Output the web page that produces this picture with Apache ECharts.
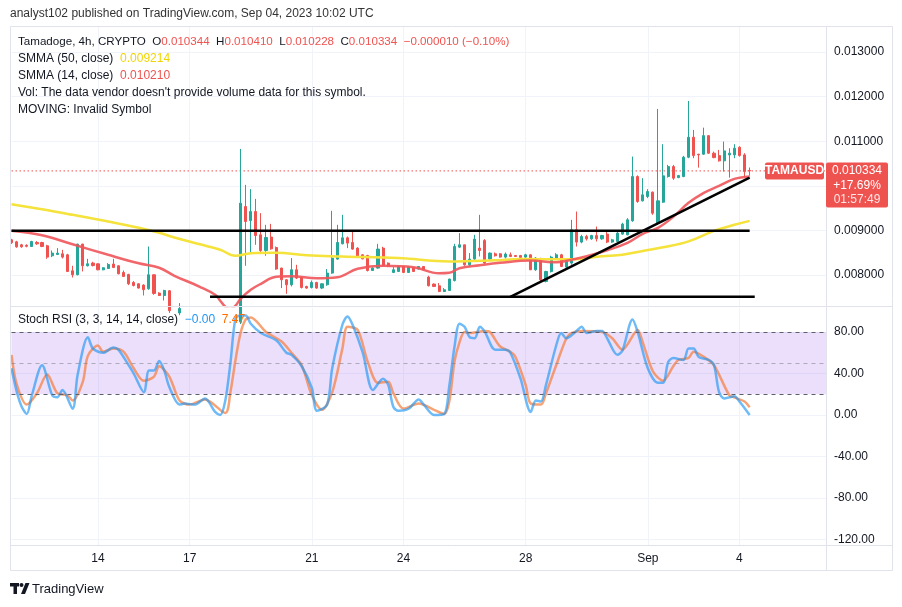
<!DOCTYPE html>
<html>
<head>
<meta charset="utf-8">
<script src="https://cdn.jsdelivr.net/npm/echarts@6/dist/echarts.min.js"></script>
<style>
  html, body { margin: 0; padding: 0; background: #fff; }
  #main { width: 902px; height: 607px; }
</style>
</head>
<body>
<div id="main"></div>
<script>
// 4h bars from Aug 11 04:00 UTC, plus empty room on the right
const startUTC = Date.UTC(2023, 7, 11, 4);
const barCount = 161;
const categories = [];
for (let i = 0; i < barCount; i++) {
  const d = new Date(startUTC + i * 4 * 3600 * 1000);
  categories.push(d.toISOString().slice(0, 13).replace('T', ' ') + ':00');
}

const dayTicks = ['2023-08-14 00:00', '2023-08-17 00:00', '2023-08-21 00:00', '2023-08-24 00:00',
  '2023-08-28 00:00', '2023-09-01 00:00', '2023-09-04 00:00'];
const dayTickLabels = ['14', '17', '21', '24', '28', 'Sep', '4'];

const priceTicks = [0.008, 0.009, 0.010, 0.011, 0.012, 0.013];
const priceLabels = [0.008, 0.009, 0.011, 0.012, 0.013];
const stochTicks = [80, 40, 0, -40, -80, -120];
const stochLevels = [80, 50, 20];

// [open, close, low, high]
const candles = [
  [0.008789,0.008722,0.008699,0.008811],[0.008744,0.008632,0.008610,0.008767],[0.008677,0.008632,0.008610,0.008699],
  [0.008666,0.008643,0.008621,0.008688],[0.008639,0.008751,0.008632,0.008767],[0.008729,0.008699,0.008677,0.008760],
  [0.008729,0.008639,0.008625,0.008744],[0.008655,0.008401,0.008363,0.008677],[0.008431,0.008491,0.008401,0.008549],
  [0.008460,0.008491,0.008453,0.008603],[0.008475,0.008401,0.008370,0.008565],[0.008453,0.008079,0.008072,0.008475],
  [0.008095,0.008005,0.007944,0.008207],[0.008005,0.008693,0.007994,0.008699],[0.008693,0.008207,0.008079,0.008699],
  [0.008207,0.008251,0.008191,0.008363],[0.008267,0.008213,0.008191,0.008296],[0.008251,0.008117,0.008106,0.008262],
  [0.008117,0.008162,0.008106,0.008173],[0.008146,0.008236,0.008133,0.008267],[0.008245,0.008169,0.008155,0.008363],
  [0.008207,0.008027,0.008016,0.008218],[0.008057,0.007967,0.007954,0.008101],[0.008012,0.007803,0.007774,0.008027],
  [0.007833,0.007765,0.007743,0.007864],[0.007803,0.007707,0.007698,0.007814],[0.007774,0.007669,0.007541,0.007792],
  [0.007691,0.008005,0.007669,0.008639],[0.008005,0.007586,0.007557,0.008016],[0.007595,0.007541,0.007528,0.007613],
  [0.007541,0.007653,0.007429,0.007669],[0.007647,0.007200,0.007150,0.007660],[0.007200,0.007150,0.007050,0.007260],
  [0.007150,0.007250,0.007100,0.007370],[0.007250,0.007100,0.007050,0.007300],[0.007100,0.007000,0.006950,0.007150],
  [0.007000,0.006950,0.006880,0.007080],[0.006950,0.007050,0.006900,0.007100],[0.007050,0.006900,0.006850,0.007100],
  [0.006900,0.006850,0.006780,0.006950],[0.006850,0.006950,0.006800,0.007000],[0.006950,0.006900,0.006850,0.007020],
  [0.006900,0.006800,0.006750,0.006950],[0.006800,0.006880,0.006760,0.006920],[0.006880,0.006950,0.006820,0.007000],
  [0.006950,0.009611,0.006900,0.010827],[0.009535,0.009199,0.008207,0.010021],[0.009221,0.009423,0.008505,0.009925],
  [0.009423,0.008885,0.008677,0.009707],[0.008901,0.008549,0.008491,0.009387],[0.008549,0.008841,0.008431,0.009125],
  [0.008850,0.008587,0.008565,0.009147],[0.008617,0.008133,0.008117,0.008639],[0.008155,0.007893,0.007707,0.008162],
  [0.007893,0.007781,0.007579,0.007909],[0.007781,0.008117,0.007743,0.008379],[0.008117,0.007931,0.007909,0.008229],
  [0.007944,0.007720,0.007698,0.007967],[0.007743,0.007707,0.007691,0.007759],[0.007720,0.007833,0.007698,0.007877],
  [0.007833,0.007707,0.007691,0.007848],[0.007707,0.007803,0.007685,0.007814],[0.007781,0.008043,0.007759,0.008133],
  [0.008043,0.008379,0.008027,0.009439],[0.008357,0.008729,0.008341,0.009125],[0.008699,0.008834,0.008688,0.009349],
  [0.008834,0.008715,0.008603,0.008863],[0.008729,0.008581,0.008565,0.008968],[0.008603,0.008415,0.008401,0.008621],
  [0.008453,0.008363,0.008352,0.008464],[0.008437,0.008101,0.008079,0.008453],[0.008101,0.008155,0.008094,0.008173],
  [0.008155,0.008581,0.008139,0.008699],[0.008603,0.008207,0.008195,0.008632],[0.008267,0.008191,0.008177,0.008281],
  [0.008057,0.008117,0.008043,0.008177],[0.008079,0.008191,0.008072,0.008207],[0.008191,0.008057,0.008043,0.008200],
  [0.008057,0.008177,0.008050,0.008190],[0.008162,0.008079,0.008072,0.008173],[0.008133,0.008191,0.008125,0.008200],
  [0.008191,0.008117,0.008110,0.008200],[0.007953,0.007759,0.007743,0.007983],[0.007797,0.007743,0.007730,0.007810],
  [0.007759,0.007631,0.007617,0.007819],[0.007631,0.007669,0.007617,0.007707],[0.007653,0.007909,0.007647,0.007916],
  [0.007877,0.008639,0.007855,0.008699],[0.008625,0.008677,0.008603,0.008939],[0.008677,0.008229,0.008207,0.008677],
  [0.008229,0.008357,0.008191,0.008491],[0.008357,0.008805,0.008341,0.008901],[0.008603,0.008549,0.008415,0.009349],
  [0.008773,0.008267,0.008251,0.008805],[0.008357,0.008491,0.008341,0.008505],[0.008475,0.008431,0.008415,0.008505],
  [0.008475,0.008401,0.008390,0.008490],[0.008401,0.008469,0.008370,0.008505],[0.008453,0.008415,0.008401,0.008505],
  [0.008437,0.008415,0.008410,0.008445],[0.008437,0.008392,0.008385,0.008450],[0.008401,0.008453,0.008363,0.008475],
  [0.008453,0.008117,0.008110,0.008460],[0.008117,0.008379,0.008094,0.008401],[0.008363,0.007893,0.007833,0.008386],
  [0.007855,0.008079,0.007833,0.008094],[0.008079,0.008401,0.008057,0.008431],[0.008370,0.008453,0.008357,0.008491],
  [0.008453,0.008191,0.008177,0.008475],[0.008177,0.008341,0.008162,0.008363],[0.008267,0.009013,0.008229,0.009237],
  [0.009013,0.008738,0.008639,0.009423],[0.008738,0.008863,0.008711,0.008901],[0.008863,0.008811,0.008773,0.008901],
  [0.008811,0.008885,0.008789,0.008901],[0.008885,0.008811,0.008751,0.009087],[0.008811,0.008885,0.008790,0.008900],
  [0.008917,0.008738,0.008715,0.008968],[0.008738,0.008789,0.008722,0.008811],[0.008751,0.008939,0.008744,0.008968],
  [0.008917,0.009141,0.008901,0.009170],[0.008901,0.009237,0.008890,0.009275],[0.009215,0.010207,0.009193,0.010655],
  [0.010207,0.009647,0.009618,0.010234],[0.009663,0.009797,0.009647,0.010171],[0.009759,0.009871,0.009724,0.009925],
  [0.009858,0.009387,0.009349,0.009871],[0.009163,0.009663,0.009125,0.011723],[0.009633,0.010223,0.009618,0.010933],
  [0.010207,0.010431,0.010184,0.010469],[0.010431,0.010171,0.010133,0.010469],[0.010184,0.010229,0.010171,0.010245],
  [0.010207,0.010641,0.010193,0.010671],[0.010641,0.011089,0.010619,0.011903],[0.011089,0.010677,0.010619,0.011253],
  [0.010709,0.010693,0.010408,0.010715],[0.010709,0.011125,0.010693,0.011304],[0.011125,0.010731,0.010715,0.011140],
  [0.010731,0.010632,0.010619,0.010767],[0.010677,0.010559,0.010543,0.010805],[0.010559,0.010783,0.010319,0.010991],
  [0.010693,0.010731,0.010184,0.010843],[0.010693,0.010843,0.010619,0.010933],[0.010865,0.010677,0.010655,0.010885],
  [0.010693,0.010319,0.010184,0.010731],[0.010344,0.010334,0.010228,0.010410]
];

// [bar index, value]
const smma50 = [[0,0.009584],[6,0.009472],[12,0.009349],[19,0.009199],[25,0.009058],[29,0.008946],[32,0.008841],
  [37,0.008688],[41,0.008565],[44,0.008431],[47,0.008487],[52,0.008498],[58,0.008442],[65,0.008415],[76,0.008379],
  [86,0.008303],[95,0.008330],[100,0.008357],[110,0.008352],[116,0.008420],[120,0.008453],[124,0.008540],
  [128,0.008621],[133,0.008755],[138,0.008990],[142,0.009125],[145,0.009214]];
const smma14 = [[0,0.008991],[6,0.008890],[12,0.008688],[19,0.008453],[25,0.008263],[29,0.008162],[32,0.007983],
  [37,0.007736],[40,0.007557],[41,0.007423],[42,0.007288],[43,0.007240],[44,0.007311],[45,0.007467],[47,0.007669],
  [49,0.007803],[52,0.007960],[55,0.007971],[60,0.007926],[64,0.007949],[68,0.008139],[73,0.008207],[79,0.008173],
  [84,0.008039],[86,0.008050],[88,0.008151],[92,0.008218],[96,0.008274],[102,0.008325],[107,0.008285],
  [110,0.008341],[113,0.008419],[117,0.008554],[121,0.008722],[124,0.008923],[127,0.009058],[130,0.009304],
  [133,0.009618],[136,0.009842],[139,0.009999],[142,0.010155],[145,0.010210]];

const resistance = [[0, 0.00899], [145, 0.00899]];
const support = [[39, 0.007512], [146, 0.007512]];
const trendUp = [[98, 0.007512], [145, 0.010185]];

const stochK = [[0,45],[1,23],[2,8],[3,1],[4,19],[6,48],[8,19],[9,17],[10,24],[12,6],[13,39],[15,75],[16,64],[18,60],
  [20,65],[21,63],[23,48],[24,40],[26,22],[27,43],[28,43],[29,52],[30,43],[31,27],[33,10],[34,11],[36,10],[38,16],
  [40,3],[41,0],[42,14],[43,50],[44,93],[45,96],[46,96],[47,88],[49,79],[52,72],[54,60],[55,58],[57,47],[59,26],
  [60,4],[62,10],[63,45],[65,87],[66,95],[67,87],[69,60],[71,24],[73,35],[74,29],[75,8],[76,4],[78,6],[80,15],
  [81,10],[83,0],[85,1],[86,28],[87,65],[88,88],[89,85],[90,75],[91,74],[92,85],[93,80],[95,63],[97,63],[98,60],
  [100,35],[102,3],[103,14],[104,13],[105,29],[107,67],[108,79],[109,74],[111,81],[112,85],[113,79],[115,81],
  [116,81],[117,74],[119,58],[120,62],[122,92],[123,80],[125,45],[127,31],[128,31],[129,51],[130,55],[132,53],
  [133,64],[134,64],[135,56],[137,53],[138,48],[139,22],[140,16],[141,17],[142,18],[143,13],[145,0]];
const stochD = [[0,58],[1,30],[3,10],[5,21],[7,39],[9,21],[11,19],[12,14],[14,32],[15,57],[17,67],[18,61],[20,64],
  [22,61],[24,45],[26,33],[28,37],[29,47],[31,37],[33,14],[35,10],[38,15],[42,2],[43,22],[44,53],[45,79],[46,92],
  [47,94],[50,80],[53,71],[55,60],[57,48],[59,19],[61,5],[63,22],[65,64],[66,85],[68,82],[70,51],[72,31],[74,32],
  [75,21],[77,6],[80,11],[83,5],[85,1],[86,13],[87,51],[88,70],[89,80],[90,79],[93,81],[94,80],[96,66],[98,61],
  [99,56],[101,29],[102,11],[104,10],[105,21],[107,48],[109,74],[110,79],[112,81],[116,80],[118,74],[120,63],
  [121,68],[123,82],[124,70],[126,42],[128,33],[130,47],[131,53],[133,55],[134,61],[136,56],[138,48],[141,19],
  [142,17],[144,13],[145,7.47]];

const dayChangeText = '+17.69%';
const countdownText = '01:57:49';

const UP = '#26A69A', DOWN = '#EF5350';
const FONT = 'Liberation Sans, Arial, sans-serif';
const GRID_LINE = '#F0F3FA';

const chart = echarts.init(document.getElementById('main'), null, { renderer: 'canvas' });

const isDayTick = (idx, value) => dayTicks.indexOf(value) >= 0;

function xAxisFor(gridIndex, showLabels) {
  return {
    type: 'category', gridIndex: gridIndex, data: categories, boundaryGap: false,
    axisLine: { show: false }, axisTick: { show: false },
    axisLabel: {
      show: showLabels, interval: isDayTick, margin: 8,
      color: '#131722', fontSize: 12, fontFamily: FONT,
      formatter: v => { const k = dayTicks.indexOf(v); return k >= 0 ? dayTickLabels[k] : ''; }
    },
    splitLine: { show: true, interval: isDayTick, lineStyle: { color: GRID_LINE, width: 1 } }
  };
}

const last = candles[candles.length - 1];
const lastClose = last[1];
const priceLine = [[0, lastClose], [barCount - 1, lastClose]];

const option = {
  backgroundColor: '#fff',
  animation: false,
  grid: [
    { left: 11.5, right: 76, top: 26, height: 280 },
    { left: 11.5, right: 76, top: 308, height: 237 }
  ],
  xAxis: [xAxisFor(0, false), xAxisFor(1, true)],
  yAxis: [
    {
      type: 'value', gridIndex: 0, position: 'right', scale: true,
      min: 0.007305, max: 0.013583,
      axisLine: { show: false },
      axisTick: { show: false, customValues: priceTicks },
      axisLabel: { customValues: priceLabels, margin: 8, color: '#131722', fontSize: 12, fontFamily: FONT,
        formatter: v => v.toFixed(6) },
      splitLine: { show: true, lineStyle: { color: GRID_LINE } }
    },
    {
      type: 'value', gridIndex: 1, position: 'right',
      min: -125.3, max: 103.13,
      axisLine: { show: false },
      axisTick: { show: false, customValues: stochTicks },
      axisLabel: { customValues: stochTicks, margin: 8, color: '#131722', fontSize: 12, fontFamily: FONT,
        formatter: v => v.toFixed(2) },
      splitLine: { show: true, lineStyle: { color: GRID_LINE } }
    }
  ],
  series: [
    {
      type: 'line', name: 'last price', xAxisIndex: 0, yAxisIndex: 0, data: priceLine,
      symbol: 'none', silent: true, z: 1,
      lineStyle: { color: DOWN, type: [1.5, 2.5], width: 1 }
    },
    {
      type: 'candlestick', name: 'TAMAUSD', xAxisIndex: 0, yAxisIndex: 0,
      data: candles, barWidth: 2.6, clip: true,
      itemStyle: { color: UP, color0: DOWN, borderColor: UP, borderColor0: DOWN, borderWidth: 1 }
    },
    {
      type: 'line', name: 'SMMA 50', xAxisIndex: 0, yAxisIndex: 0, data: smma50,
      smooth: 0.4, symbol: 'none', clip: true,
      lineStyle: { color: '#F5E23A', width: 2.5 }
    },
    {
      type: 'line', name: 'SMMA 14', xAxisIndex: 0, yAxisIndex: 0, data: smma14,
      smooth: 0.4, symbol: 'none', clip: true,
      lineStyle: { color: '#F0555A', width: 2.5, opacity: 0.9 }
    },
    {
      type: 'line', name: 'resistance', xAxisIndex: 0, yAxisIndex: 0, data: resistance,
      symbol: 'none', lineStyle: { color: '#000', width: 2.5 }
    },
    {
      type: 'line', name: 'support', xAxisIndex: 0, yAxisIndex: 0, data: support,
      symbol: 'none', lineStyle: { color: '#000', width: 2.5 }
    },
    {
      type: 'line', name: 'trend', xAxisIndex: 0, yAxisIndex: 0, data: trendUp,
      symbol: 'none', lineStyle: { color: '#000', width: 2.5 }
    },
    {
      type: 'line', name: 'D', xAxisIndex: 1, yAxisIndex: 1, data: stochD,
      smooth: 0.3, symbol: 'none',
      lineStyle: { color: 'rgba(245,124,60,0.7)', width: 2.5 },
      markArea: {
        silent: true, itemStyle: { color: 'rgba(149,76,233,0.18)' },
        data: [[{ yAxis: stochLevels[2] }, { yAxis: stochLevels[0] }]]
      },
      markLine: {
        silent: true, symbol: ['none', 'none'], label: { show: false },
        lineStyle: { color: '#5D606B', type: [4, 4], width: 1 },
        data: [
          { yAxis: stochLevels[0] },
          { yAxis: stochLevels[1], lineStyle: { color: 'rgba(120,123,134,0.55)' } },
          { yAxis: stochLevels[2] }
        ]
      }
    },
    {
      type: 'line', name: 'K', xAxisIndex: 1, yAxisIndex: 1, data: stochK,
      smooth: 0.3, symbol: 'none',
      lineStyle: { color: 'rgba(33,150,243,0.65)', width: 2.5 }
    }
  ]
};

chart.setOption(option);

// overlays: frame, legends, price tags
const tagY = chart.convertToPixel({ yAxisIndex: 0 }, lastClose);
const change = last[1] - last[0];
const pct = change / last[0] * 100;
const signed = (v, d) => (v < 0 ? '\u2212' : '+') + Math.abs(v).toFixed(d);
const fmt = v => v.toFixed(6);
const lastK = stochK[stochK.length - 1][1];
const lastD = stochD[stochD.length - 1][1];
const smma50Last = smma50[smma50.length - 1][1];
const smma14Last = smma14[smma14.length - 1][1];

const txt = (x, y, text, extra) => ({
  type: 'text', x: x, y: y, silent: true, z: 100,
  style: Object.assign({ text: text, fill: '#131722', font: '12px ' + FONT, verticalAlign: 'middle' }, extra || {})
});
const line = (x1, y1, x2, y2) => ({
  type: 'line', silent: true, z: 90,
  shape: { x1: x1, y1: y1, x2: x2, y2: y2 }, style: { stroke: '#E0E3EB', lineWidth: 1 }
});

chart.setOption({
  graphic: [
    { type: 'rect', silent: true, z: 90, shape: { x: 10.5, y: 26.5, width: 882, height: 544 },
      style: { fill: 'none', stroke: '#E0E3EB', lineWidth: 1 } },
    line(10, 306.5, 893, 306.5),
    line(10, 545.5, 893, 545.5),
    line(826.5, 26, 826.5, 571),
    txt(10, 14, 'analyst102 published on TradingView.com, Sep 04, 2023 10:02 UTC', { fill: '#333' }),
    txt(18, 42,
      'Tamadoge, 4h, CRYPTO  O{r|' + fmt(last[0]) + '}  H{r|' + fmt(last[3]) + '}  L{r|' + fmt(last[2]) +
      '}  C{r|' + fmt(last[1]) + '}  {r|' + signed(change, 6) + ' (' + signed(pct, 2) + '%)}',
      { font: '11.6px ' + FONT, rich: { r: { fill: DOWN, font: '11.6px ' + FONT } } }),
    txt(18, 59, 'SMMA (50, close)  {y|' + fmt(smma50Last) + '}', { rich: { y: { fill: '#F2D500', font: '12px ' + FONT } } }),
    txt(18, 76, 'SMMA (14, close)  {r|' + fmt(smma14Last) + '}', { rich: { r: { fill: DOWN, font: '12px ' + FONT } } }),
    txt(18, 93, 'Vol: The data vendor doesn\'t provide volume data for this symbol.'),
    txt(18, 110, 'MOVING: Invalid Symbol'),
    txt(18, 320, 'Stoch RSI (3, 3, 14, 14, close)  {b|' + signed(-lastK, 2).replace('+', '\u2212') + '}  {o|' + lastD.toFixed(2) + '}',
      { rich: { b: { fill: '#2196F3', font: '12px ' + FONT }, o: { fill: '#FF6D00', font: '12px ' + FONT } } }),
    // symbol tag on the price line
    { type: 'rect', silent: true, z: 95, shape: { x: 765, y: tagY - 8.5, width: 59, height: 17, r: 2 }, style: { fill: DOWN } },
    txt(794.5, tagY, 'TAMAUSD', { fill: '#fff', align: 'center', font: 'bold 12px ' + FONT }),
    // last price tag on the axis
    { type: 'rect', silent: true, z: 95, shape: { x: 826, y: tagY - 8.5, width: 62, height: 45, r: 2 }, style: { fill: DOWN } },
    txt(857, tagY, fmt(lastClose), { fill: '#fff', align: 'center' }),
    txt(857, tagY + 14.5, dayChangeText, { fill: '#fff', align: 'center' }),
    txt(857, tagY + 29, countdownText, { fill: 'rgba(255,255,255,0.85)', align: 'center' }),
    // footer logo
    { type: 'rect', silent: true, shape: { x: 10, y: 583, width: 9, height: 3.5 }, style: { fill: '#131722' } },
    { type: 'rect', silent: true, shape: { x: 13.5, y: 583, width: 3.5, height: 11 }, style: { fill: '#131722' } },
    { type: 'circle', silent: true, shape: { cx: 21.5, cy: 585, r: 2 }, style: { fill: '#131722' } },
    { type: 'polygon', silent: true, shape: { points: [[21, 594], [25.5, 583], [29.5, 583], [25, 594]] }, style: { fill: '#131722' } },
    txt(32, 589, 'TradingView', { font: '13px ' + FONT, fill: '#131722' })
  ]
});
</script>
</body>
</html>
